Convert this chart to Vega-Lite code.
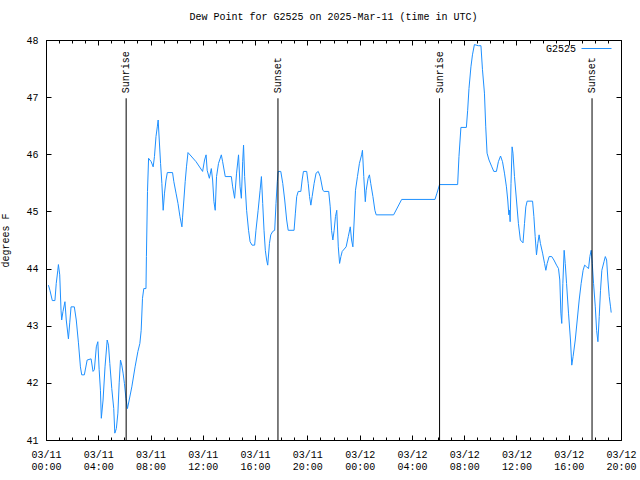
{
  "$schema": "https://vega.github.io/schema/vega-lite/v6.json",
  "autosize": "none",
  "width": 575,
  "height": 400,
  "padding": {"left": 46, "top": 40, "right": 19, "bottom": 40},
  "background": "white",
  "title": {"text": "Dew Point for G2525 on 2025-Mar-11 (time in UTC)", "font": "Liberation Mono", "fontSize": 10, "fontWeight": "normal", "color": "black", "offset": 11},
  "config": {
    "view": {"stroke": "black", "strokeWidth": 1},
    "axis": {"labelFont": "Liberation Mono", "labelFontSize": 10, "labelColor": "black", "titleFont": "Liberation Mono", "titleFontSize": 10, "titleFontWeight": "normal", "titleColor": "black", "tickColor": "black", "grid": false, "domain": false},
    "legend": {"labelFont": "Liberation Mono", "labelFontSize": 10, "labelColor": "black"}
  },
  "datasets": {
    "dew": [
      {"t":"2025-03-11T00:11:00Z","d":43.71},{"t":"2025-03-11T00:18:00Z","d":43.62},{"t":"2025-03-11T00:29:00Z","d":43.44},{"t":"2025-03-11T00:41:00Z","d":43.44},
      {"t":"2025-03-11T00:47:00Z","d":43.74},{"t":"2025-03-11T00:54:00Z","d":43.96},{"t":"2025-03-11T00:57:00Z","d":44.07},{"t":"2025-03-11T01:03:00Z","d":43.89},
      {"t":"2025-03-11T01:09:00Z","d":43.27},{"t":"2025-03-11T01:12:00Z","d":43.10},{"t":"2025-03-11T01:18:00Z","d":43.25},{"t":"2025-03-11T01:27:00Z","d":43.42},
      {"t":"2025-03-11T01:33:00Z","d":43.10},{"t":"2025-03-11T01:43:00Z","d":42.77},{"t":"2025-03-11T01:49:00Z","d":43.05},{"t":"2025-03-11T01:55:00Z","d":43.33},
      {"t":"2025-03-11T02:10:00Z","d":43.33},{"t":"2025-03-11T02:19:00Z","d":43.10},{"t":"2025-03-11T02:29:00Z","d":42.70},{"t":"2025-03-11T02:38:00Z","d":42.28},
      {"t":"2025-03-11T02:44:00Z","d":42.14},{"t":"2025-03-11T02:56:00Z","d":42.14},{"t":"2025-03-11T03:09:00Z","d":42.40},{"t":"2025-03-11T03:27:00Z","d":42.42},
      {"t":"2025-03-11T03:36:00Z","d":42.20},{"t":"2025-03-11T03:42:00Z","d":42.23},{"t":"2025-03-11T03:51:00Z","d":42.63},{"t":"2025-03-11T03:58:00Z","d":42.72},
      {"t":"2025-03-11T04:04:00Z","d":42.23},{"t":"2025-03-11T04:10:00Z","d":41.87},{"t":"2025-03-11T04:14:00Z","d":41.38},{"t":"2025-03-11T04:22:00Z","d":41.70},
      {"t":"2025-03-11T04:31:00Z","d":42.28},{"t":"2025-03-11T04:41:00Z","d":42.75},{"t":"2025-03-11T04:47:00Z","d":42.66},{"t":"2025-03-11T04:53:00Z","d":42.34},
      {"t":"2025-03-11T05:02:00Z","d":41.90},{"t":"2025-03-11T05:11:00Z","d":41.55},{"t":"2025-03-11T05:16:00Z","d":41.12},{"t":"2025-03-11T05:23:00Z","d":41.20},
      {"t":"2025-03-11T05:30:00Z","d":41.47},{"t":"2025-03-11T05:36:00Z","d":42.00},{"t":"2025-03-11T05:42:00Z","d":42.40},{"t":"2025-03-11T05:48:00Z","d":42.31},
      {"t":"2025-03-11T05:54:00Z","d":42.17},{"t":"2025-03-11T06:00:00Z","d":41.99},{"t":"2025-03-11T06:07:00Z","d":41.73},{"t":"2025-03-11T06:14:00Z","d":41.55},
      {"t":"2025-03-11T06:22:00Z","d":41.70},{"t":"2025-03-11T06:34:00Z","d":41.93},{"t":"2025-03-11T06:49:00Z","d":42.28},{"t":"2025-03-11T07:02:00Z","d":42.55},
      {"t":"2025-03-11T07:11:00Z","d":42.69},{"t":"2025-03-11T07:17:00Z","d":42.92},{"t":"2025-03-11T07:23:00Z","d":43.48},{"t":"2025-03-11T07:29:00Z","d":43.65},
      {"t":"2025-03-11T07:39:00Z","d":43.65},{"t":"2025-03-11T07:41:00Z","d":44.21},{"t":"2025-03-11T07:46:00Z","d":45.35},{"t":"2025-03-11T07:51:00Z","d":45.93},
      {"t":"2025-03-11T08:03:00Z","d":45.87},{"t":"2025-03-11T08:12:00Z","d":45.78},{"t":"2025-03-11T08:18:00Z","d":45.96},{"t":"2025-03-11T08:25:00Z","d":46.31},
      {"t":"2025-03-11T08:31:00Z","d":46.48},{"t":"2025-03-11T08:35:00Z","d":46.60},{"t":"2025-03-11T08:40:00Z","d":46.25},{"t":"2025-03-11T08:46:00Z","d":45.84},
      {"t":"2025-03-11T08:52:00Z","d":45.49},{"t":"2025-03-11T08:58:00Z","d":45.02},{"t":"2025-03-11T09:04:00Z","d":45.32},{"t":"2025-03-11T09:11:00Z","d":45.55},
      {"t":"2025-03-11T09:17:00Z","d":45.68},{"t":"2025-03-11T09:41:00Z","d":45.68},{"t":"2025-03-11T09:47:00Z","d":45.52},{"t":"2025-03-11T09:57:00Z","d":45.32},
      {"t":"2025-03-11T10:06:00Z","d":45.14},{"t":"2025-03-11T10:15:00Z","d":44.91},{"t":"2025-03-11T10:24:00Z","d":44.73},{"t":"2025-03-11T10:27:00Z","d":44.90},
      {"t":"2025-03-11T10:33:00Z","d":45.20},{"t":"2025-03-11T10:39:00Z","d":45.52},{"t":"2025-03-11T10:45:00Z","d":45.78},{"t":"2025-03-11T10:52:00Z","d":46.03},
      {"t":"2025-03-11T11:29:00Z","d":45.87},{"t":"2025-03-11T11:59:00Z","d":45.70},{"t":"2025-03-11T12:08:00Z","d":45.90},{"t":"2025-03-11T12:15:00Z","d":45.99},
      {"t":"2025-03-11T12:20:00Z","d":45.72},{"t":"2025-03-11T12:30:00Z","d":45.58},{"t":"2025-03-11T12:39:00Z","d":45.75},{"t":"2025-03-11T12:45:00Z","d":45.55},
      {"t":"2025-03-11T12:51:00Z","d":45.17},{"t":"2025-03-11T12:57:00Z","d":45.02},{"t":"2025-03-11T13:03:00Z","d":45.61},{"t":"2025-03-11T13:12:00Z","d":45.84},
      {"t":"2025-03-11T13:25:00Z","d":45.99},{"t":"2025-03-11T13:31:00Z","d":45.87},{"t":"2025-03-11T13:43:00Z","d":45.61},{"t":"2025-03-11T14:11:00Z","d":45.61},
      {"t":"2025-03-11T14:17:00Z","d":45.43},{"t":"2025-03-11T14:26:00Z","d":45.23},{"t":"2025-03-11T14:35:00Z","d":45.67},{"t":"2025-03-11T14:44:00Z","d":45.99},
      {"t":"2025-03-11T14:51:00Z","d":45.43},{"t":"2025-03-11T14:57:00Z","d":45.23},{"t":"2025-03-11T15:03:00Z","d":45.87},{"t":"2025-03-11T15:07:00Z","d":46.16},
      {"t":"2025-03-11T15:12:00Z","d":45.61},{"t":"2025-03-11T15:21:00Z","d":45.02},{"t":"2025-03-11T15:30:00Z","d":44.67},{"t":"2025-03-11T15:37:00Z","d":44.47},
      {"t":"2025-03-11T15:46:00Z","d":44.41},{"t":"2025-03-11T15:58:00Z","d":44.41},{"t":"2025-03-11T16:04:00Z","d":44.67},{"t":"2025-03-11T16:14:00Z","d":45.02},
      {"t":"2025-03-11T16:23:00Z","d":45.37},{"t":"2025-03-11T16:29:00Z","d":45.61},{"t":"2025-03-11T16:35:00Z","d":45.14},{"t":"2025-03-11T16:41:00Z","d":44.67},
      {"t":"2025-03-11T16:47:00Z","d":44.32},{"t":"2025-03-11T16:53:00Z","d":44.15},{"t":"2025-03-11T16:58:00Z","d":44.06},{"t":"2025-03-11T17:06:00Z","d":44.44},
      {"t":"2025-03-11T17:12:00Z","d":44.59},{"t":"2025-03-11T17:21:00Z","d":44.65},{"t":"2025-03-11T17:30:00Z","d":44.67},{"t":"2025-03-11T17:36:00Z","d":45.14},
      {"t":"2025-03-11T17:42:00Z","d":45.52},{"t":"2025-03-11T17:46:00Z","d":45.70},{"t":"2025-03-11T17:58:00Z","d":45.70},{"t":"2025-03-11T18:07:00Z","d":45.49},
      {"t":"2025-03-11T18:16:00Z","d":45.20},{"t":"2025-03-11T18:25:00Z","d":44.85},{"t":"2025-03-11T18:32:00Z","d":44.67},{"t":"2025-03-11T18:59:00Z","d":44.67},
      {"t":"2025-03-11T19:05:00Z","d":44.97},{"t":"2025-03-11T19:11:00Z","d":45.26},{"t":"2025-03-11T19:18:00Z","d":45.35},{"t":"2025-03-11T19:30:00Z","d":45.35},
      {"t":"2025-03-11T19:36:00Z","d":45.55},{"t":"2025-03-11T19:42:00Z","d":45.70},{"t":"2025-03-11T19:57:00Z","d":45.70},{"t":"2025-03-11T20:04:00Z","d":45.49},
      {"t":"2025-03-11T20:10:00Z","d":45.26},{"t":"2025-03-11T20:16:00Z","d":45.11},{"t":"2025-03-11T20:22:00Z","d":45.26},{"t":"2025-03-11T20:31:00Z","d":45.49},
      {"t":"2025-03-11T20:40:00Z","d":45.67},{"t":"2025-03-11T20:50:00Z","d":45.70},{"t":"2025-03-11T20:59:00Z","d":45.61},{"t":"2025-03-11T21:11:00Z","d":45.37},
      {"t":"2025-03-11T21:17:00Z","d":45.35},{"t":"2025-03-11T21:38:00Z","d":45.35},{"t":"2025-03-11T21:45:00Z","d":45.08},{"t":"2025-03-11T21:51:00Z","d":44.67},
      {"t":"2025-03-11T21:57:00Z","d":44.50},{"t":"2025-03-11T22:03:00Z","d":44.67},{"t":"2025-03-11T22:09:00Z","d":44.91},{"t":"2025-03-11T22:15:00Z","d":45.02},
      {"t":"2025-03-11T22:22:00Z","d":44.38},{"t":"2025-03-11T22:28:00Z","d":44.09},{"t":"2025-03-11T22:34:00Z","d":44.21},{"t":"2025-03-11T22:40:00Z","d":44.30},
      {"t":"2025-03-11T22:58:00Z","d":44.38},{"t":"2025-03-11T23:08:00Z","d":44.56},{"t":"2025-03-11T23:17:00Z","d":44.73},{"t":"2025-03-11T23:23:00Z","d":44.50},
      {"t":"2025-03-11T23:29:00Z","d":44.38},{"t":"2025-03-11T23:35:00Z","d":44.85},{"t":"2025-03-11T23:41:00Z","d":45.37},{"t":"2025-03-11T23:50:00Z","d":45.61},
      {"t":"2025-03-11T23:59:00Z","d":45.84},{"t":"2025-03-12T00:09:00Z","d":45.99},{"t":"2025-03-12T00:13:00Z","d":46.07},{"t":"2025-03-12T00:19:00Z","d":45.61},
      {"t":"2025-03-12T00:26:00Z","d":45.17},{"t":"2025-03-12T00:30:00Z","d":45.37},{"t":"2025-03-12T00:39:00Z","d":45.58},{"t":"2025-03-12T00:45:00Z","d":45.64},
      {"t":"2025-03-12T00:51:00Z","d":45.49},{"t":"2025-03-12T01:01:00Z","d":45.26},{"t":"2025-03-12T01:10:00Z","d":45.02},{"t":"2025-03-12T01:16:00Z","d":44.94},
      {"t":"2025-03-12T02:36:00Z","d":44.94},{"t":"2025-03-12T03:13:00Z","d":45.21},{"t":"2025-03-12T05:46:00Z","d":45.21},{"t":"2025-03-12T05:55:00Z","d":45.32},
      {"t":"2025-03-12T06:07:00Z","d":45.47},{"t":"2025-03-12T07:30:00Z","d":45.47},{"t":"2025-03-12T07:36:00Z","d":45.96},{"t":"2025-03-12T07:45:00Z","d":46.47},
      {"t":"2025-03-12T08:10:00Z","d":46.47},{"t":"2025-03-12T08:16:00Z","d":46.77},{"t":"2025-03-12T08:22:00Z","d":47.15},{"t":"2025-03-12T08:31:00Z","d":47.53},
      {"t":"2025-03-12T08:38:00Z","d":47.74},{"t":"2025-03-12T08:47:00Z","d":47.92},{"t":"2025-03-12T09:05:00Z","d":47.90},{"t":"2025-03-12T09:17:00Z","d":47.90},
      {"t":"2025-03-12T09:24:00Z","d":47.48},{"t":"2025-03-12T09:33:00Z","d":47.07},{"t":"2025-03-12T09:39:00Z","d":46.48},{"t":"2025-03-12T09:45:00Z","d":46.02},
      {"t":"2025-03-12T09:54:00Z","d":45.90},{"t":"2025-03-12T10:07:00Z","d":45.78},{"t":"2025-03-12T10:16:00Z","d":45.70},{"t":"2025-03-12T10:28:00Z","d":45.70},
      {"t":"2025-03-12T10:37:00Z","d":45.87},{"t":"2025-03-12T10:47:00Z","d":45.97},{"t":"2025-03-12T10:56:00Z","d":45.87},{"t":"2025-03-12T11:05:00Z","d":45.67},
      {"t":"2025-03-12T11:14:00Z","d":45.43},{"t":"2025-03-12T11:20:00Z","d":45.20},{"t":"2025-03-12T11:25:00Z","d":44.94},{"t":"2025-03-12T11:28:00Z","d":45.02},
      {"t":"2025-03-12T11:31:00Z","d":44.82},{"t":"2025-03-12T11:35:00Z","d":45.49},{"t":"2025-03-12T11:40:00Z","d":46.13},{"t":"2025-03-12T11:44:00Z","d":46.02},
      {"t":"2025-03-12T11:51:00Z","d":45.61},{"t":"2025-03-12T12:00:00Z","d":45.20},{"t":"2025-03-12T12:09:00Z","d":44.79},{"t":"2025-03-12T12:18:00Z","d":44.50},
      {"t":"2025-03-12T12:30:00Z","d":44.45},{"t":"2025-03-12T12:37:00Z","d":44.79},{"t":"2025-03-12T12:43:00Z","d":45.08},{"t":"2025-03-12T12:49:00Z","d":45.18},
      {"t":"2025-03-12T13:14:00Z","d":45.18},{"t":"2025-03-12T13:20:00Z","d":44.91},{"t":"2025-03-12T13:26:00Z","d":44.56},{"t":"2025-03-12T13:32:00Z","d":44.24},
      {"t":"2025-03-12T13:38:00Z","d":44.44},{"t":"2025-03-12T13:44:00Z","d":44.59},{"t":"2025-03-12T13:50:00Z","d":44.44},{"t":"2025-03-12T14:00:00Z","d":44.27},
      {"t":"2025-03-12T14:09:00Z","d":44.09},{"t":"2025-03-12T14:15:00Z","d":43.97},{"t":"2025-03-12T14:21:00Z","d":44.09},{"t":"2025-03-12T14:30:00Z","d":44.21},
      {"t":"2025-03-12T14:42:00Z","d":44.21},{"t":"2025-03-12T14:52:00Z","d":44.15},{"t":"2025-03-12T15:04:00Z","d":44.06},{"t":"2025-03-12T15:13:00Z","d":44.00},
      {"t":"2025-03-12T15:19:00Z","d":43.80},{"t":"2025-03-12T15:24:00Z","d":43.22},{"t":"2025-03-12T15:28:00Z","d":43.04},{"t":"2025-03-12T15:33:00Z","d":43.74},
      {"t":"2025-03-12T15:39:00Z","d":44.32},{"t":"2025-03-12T15:44:00Z","d":44.09},{"t":"2025-03-12T15:50:00Z","d":43.74},{"t":"2025-03-12T15:59:00Z","d":43.22},
      {"t":"2025-03-12T16:08:00Z","d":42.75},{"t":"2025-03-12T16:14:00Z","d":42.31},{"t":"2025-03-12T16:20:00Z","d":42.46},{"t":"2025-03-12T16:30:00Z","d":42.75},
      {"t":"2025-03-12T16:39:00Z","d":43.10},{"t":"2025-03-12T16:48:00Z","d":43.45},{"t":"2025-03-12T16:57:00Z","d":43.74},{"t":"2025-03-12T17:06:00Z","d":43.97},
      {"t":"2025-03-12T17:13:00Z","d":44.06},{"t":"2025-03-12T17:22:00Z","d":44.03},{"t":"2025-03-12T17:31:00Z","d":44.00},{"t":"2025-03-12T17:37:00Z","d":44.21},
      {"t":"2025-03-12T17:43:00Z","d":44.32},{"t":"2025-03-12T17:48:00Z","d":44.09},{"t":"2025-03-12T17:54:00Z","d":43.74},{"t":"2025-03-12T18:02:00Z","d":43.33},
      {"t":"2025-03-12T18:08:00Z","d":42.92},{"t":"2025-03-12T18:14:00Z","d":42.72},{"t":"2025-03-12T18:20:00Z","d":43.16},{"t":"2025-03-12T18:26:00Z","d":43.62},
      {"t":"2025-03-12T18:32:00Z","d":43.97},{"t":"2025-03-12T18:42:00Z","d":44.12},{"t":"2025-03-12T18:48:00Z","d":44.21},{"t":"2025-03-12T18:54:00Z","d":44.15},
      {"t":"2025-03-12T19:00:00Z","d":43.80},{"t":"2025-03-12T19:06:00Z","d":43.51},{"t":"2025-03-12T19:12:00Z","d":43.33},{"t":"2025-03-12T19:15:00Z","d":43.23}
    ],
    "events": [
      {"t":"2025-03-11T06:08:00Z","event":"Sunrise"},
      {"t":"2025-03-11T17:45:00Z","event":"Sunset"},
      {"t":"2025-03-12T06:07:00Z","event":"Sunrise"},
      {"t":"2025-03-12T17:47:00Z","event":"Sunset"}
    ]
  },
  "layer": [
    {
      "data": {"name": "dew"},
      "mark": {"type": "line", "strokeWidth": 1},
      "encoding": {
        "x": {"field": "t", "type": "temporal",
          "scale": {"type": "utc", "domain": [1741651200000, 1741809600000], "nice": false},
          "axis": {"orient": "bottom", "title": null, "tickSize": -5,
            "values": [1741651200000, 1741665600000, 1741680000000, 1741694400000, 1741708800000, 1741723200000, 1741737600000, 1741752000000, 1741766400000, 1741780800000, 1741795200000, 1741809600000],
            "labelExpr": "utcFormat(datum.value, '%m/%d')", "labelOverlap": false, "labelFlush": false, "labelBound": false, "labelPadding": 14}},
        "y": {"field": "d", "type": "quantitative",
          "scale": {"domain": [41, 48], "nice": false, "zero": false},
          "axis": {"orient": "left", "title": "degrees F", "values": [41, 42, 43, 44, 45, 46, 47, 48], "tickSize": -5, "labelPadding": 13, "titlePadding": 15}},
        "color": {"datum": "G2525", "type": "nominal",
          "scale": {"range": ["#1E90FF"]},
          "legend": {"title": null, "orient": "none", "legendX": 535, "legendY": -7, "symbolType": "stroke", "symbolSize": 900, "symbolStrokeWidth": 1, "labelAlign": "right", "labelOffset": -36, "padding": 0}}
      }
    },
    {
      "data": {"name": "events"},
      "transform": [{"filter": "datum.event === 'Sunrise'"}],
      "mark": {"type": "rule", "color": "black", "strokeWidth": 1},
      "encoding": {
        "x": {"field": "t", "type": "temporal",
          "axis": {"orient": "top", "title": null, "labels": false, "tickSize": -5,
            "values": [1741651200000, 1741665600000, 1741680000000, 1741694400000, 1741708800000, 1741723200000, 1741737600000, 1741752000000, 1741766400000, 1741780800000, 1741795200000, 1741809600000]}},
        "y": {"datum": 41, "type": "quantitative",
          "axis": {"orient": "right", "title": null, "labels": false, "values": [41, 42, 43, 44, 45, 46, 47, 48], "tickSize": -5}},
        "y2": {"datum": 46.98}
      }
    },
    {
      "data": {"name": "events"},
      "transform": [{"filter": "datum.event === 'Sunset'"}],
      "mark": {"type": "rule", "color": "black", "strokeWidth": 1},
      "encoding": {
        "x": {"field": "t", "type": "temporal",
          "axis": {"orient": "top", "title": null, "labels": false, "tickSize": -3,
            "values": [1741651200000, 1741654800000, 1741658400000, 1741662000000, 1741665600000, 1741669200000, 1741672800000, 1741676400000, 1741680000000, 1741683600000, 1741687200000, 1741690800000, 1741694400000, 1741698000000, 1741701600000, 1741705200000, 1741708800000, 1741712400000, 1741716000000, 1741719600000, 1741723200000, 1741726800000, 1741730400000, 1741734000000, 1741737600000, 1741741200000, 1741744800000, 1741748400000, 1741752000000, 1741755600000, 1741759200000, 1741762800000, 1741766400000, 1741770000000, 1741773600000, 1741777200000, 1741780800000, 1741784400000, 1741788000000, 1741791600000, 1741795200000, 1741798800000, 1741802400000, 1741806000000, 1741809600000]}},
        "y": {"datum": 41, "type": "quantitative", "axis": null},
        "y2": {"datum": 46.98}
      }
    },
    {
      "data": {"name": "events"},
      "mark": {"type": "text", "angle": 270, "align": "left", "baseline": "middle", "font": "Liberation Mono", "fontSize": 10, "color": "black"},
      "encoding": {
        "x": {"field": "t", "type": "temporal",
          "axis": {"orient": "bottom", "title": null, "tickSize": -3,
            "values": [1741651200000, 1741654800000, 1741658400000, 1741662000000, 1741665600000, 1741669200000, 1741672800000, 1741676400000, 1741680000000, 1741683600000, 1741687200000, 1741690800000, 1741694400000, 1741698000000, 1741701600000, 1741705200000, 1741708800000, 1741712400000, 1741716000000, 1741719600000, 1741723200000, 1741726800000, 1741730400000, 1741734000000, 1741737600000, 1741741200000, 1741744800000, 1741748400000, 1741752000000, 1741755600000, 1741759200000, 1741762800000, 1741766400000, 1741770000000, 1741773600000, 1741777200000, 1741780800000, 1741784400000, 1741788000000, 1741791600000, 1741795200000, 1741798800000, 1741802400000, 1741806000000, 1741809600000],
            "labelExpr": "utchours(datum.value) % 4 === 0 ? utcFormat(datum.value, '%H:%M') : ''", "labelOverlap": false, "labelFlush": false, "labelBound": false, "labelPadding": 24}},
        "y": {"datum": 47.07, "type": "quantitative", "axis": null},
        "text": {"field": "event"}
      }
    }
  ],
  "resolve": {"axis": {"x": "independent", "y": "independent"}}
}
